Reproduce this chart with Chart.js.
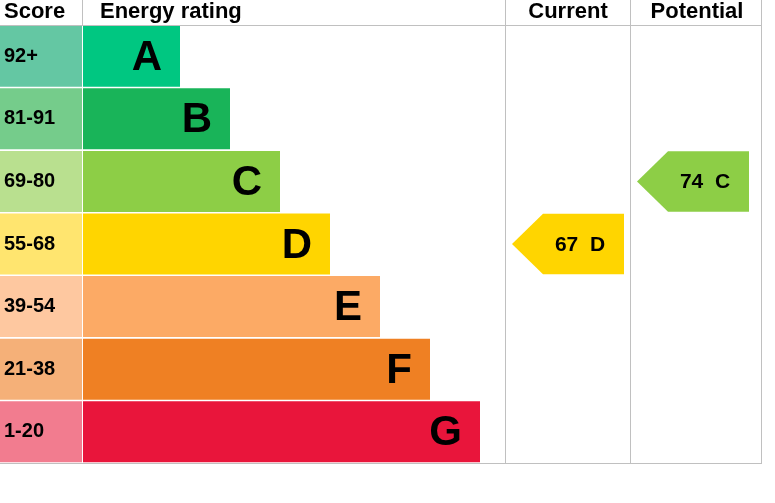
<!DOCTYPE html>
<html>
<head>
<meta charset="utf-8">
<script src="https://cdn.jsdelivr.net/npm/chart.js@4/dist/chart.umd.min.js"></script>
<style>
  body { margin: 0; background: #fff; }
  #wrap { width: 775px; height: 503px; }
</style>
</head>
<body>
<div id="wrap"><canvas id="epc"></canvas></div>
<script>
const bands = ["A", "B", "C", "D", "E", "F", "G"];
const scores = ["92+", "81-91", "69-80", "55-68", "39-54", "21-38", "1-20"];
const barEnds = [180, 230, 280, 330, 380, 430, 480];
const bandColors = ["#00c781", "#19b459", "#8dce46", "#ffd500", "#fcaa65", "#ef8023", "#e9153b"];
const scoreColors = ["#64c7a3", "#75cc8b", "#b9e08f", "#ffe56f", "#fec8a0", "#f5b078", "#f27c8f"];
const currentValue = 67, currentBand = "D";
const potentialValue = 74, potentialBand = "C";

const FONT = "'Liberation Sans', Arial, sans-serif";

// table lines, header, labels and arrows
const epcPlugin = {
  id: "epc",
  afterDatasetsDraw(chart) {
    const ctx = chart.ctx, x = chart.scales.x, y = chart.scales.y;
    const top = chart.chartArea.top, bottom = chart.chartArea.bottom;
    const rowH = (bottom - top) / bands.length;
    ctx.save();
    ctx.strokeStyle = "#c0c0c0";
    ctx.lineWidth = 1;
    ctx.beginPath();
    ctx.moveTo(0, top + 0.5); ctx.lineTo(x.getPixelForValue(762), top + 0.5);
    ctx.moveTo(0, bottom + 0.5); ctx.lineTo(x.getPixelForValue(762), bottom + 0.5);
    [82.5, 505.5, 630.5, 761.5].forEach(v => {
      const px = x.getPixelForValue(v);
      ctx.moveTo(px, v === 82.5 ? 0 : 0); ctx.lineTo(px, v === 82.5 ? top : bottom);
    });
    ctx.stroke();

    ctx.fillStyle = "#000";
    ctx.textBaseline = "middle";
    ctx.font = "bold 22px " + FONT;
    ctx.textAlign = "left";
    ctx.fillText("Score", 4, 12);
    ctx.fillText("Energy rating", 100, 12);
    ctx.textAlign = "center";
    ctx.fillText("Current", x.getPixelForValue(568), 12);
    ctx.fillText("Potential", x.getPixelForValue(697), 12);

    bands.forEach((b, i) => {
      const cy = y.getPixelForValue(i);
      ctx.textAlign = "left";
      ctx.font = "bold 20px " + FONT;
      ctx.fillText(scores[i], 4, cy);
      ctx.textAlign = "right";
      ctx.font = "bold 42px " + FONT;
      ctx.fillText(b, x.getPixelForValue(barEnds[i] - 18), cy + 2);
    });

    const arrow = (band, value, x0, x1) => {
      const i = bands.indexOf(band);
      const cy = y.getPixelForValue(i);
      const h = rowH - 2;
      const l = x.getPixelForValue(x0), r = x.getPixelForValue(x1);
      ctx.fillStyle = bandColors[i];
      ctx.beginPath();
      ctx.moveTo(l, cy);
      ctx.lineTo(l + 31, cy - h / 2);
      ctx.lineTo(r, cy - h / 2);
      ctx.lineTo(r, cy + h / 2);
      ctx.lineTo(l + 31, cy + h / 2);
      ctx.closePath();
      ctx.fill();
      ctx.fillStyle = "#000";
      ctx.font = "bold 21px " + FONT;
      ctx.textAlign = "center";
      ctx.fillText(value + "  " + band, (l + r) / 2 + 12, cy + 1);
    };
    arrow(currentBand, currentValue, 512, 624);
    arrow(potentialBand, potentialValue, 637, 749);
    ctx.restore();
  }
};

new Chart(document.getElementById("epc"), {
  type: "bar",
  data: {
    labels: bands,
    datasets: [
      { data: bands.map(() => [0, 82]), backgroundColor: scoreColors, grouped: false,
        barPercentage: 1, categoryPercentage: 0.975 },
      { data: barEnds.map(e => [83, e]), backgroundColor: bandColors, grouped: false,
        barPercentage: 1, categoryPercentage: 0.975 }
    ]
  },
  options: {
    indexAxis: "y",
    responsive: true,
    maintainAspectRatio: false,
    animation: false,
    layout: { padding: { top: 25, bottom: 40, left: 0, right: 13 } },
    plugins: { legend: { display: false }, tooltip: { enabled: false } },
    scales: {
      x: { type: "linear", min: 0, max: 762, display: false },
      y: { display: false }
    }
  },
  plugins: [epcPlugin]
});
</script>
</body>
</html>
